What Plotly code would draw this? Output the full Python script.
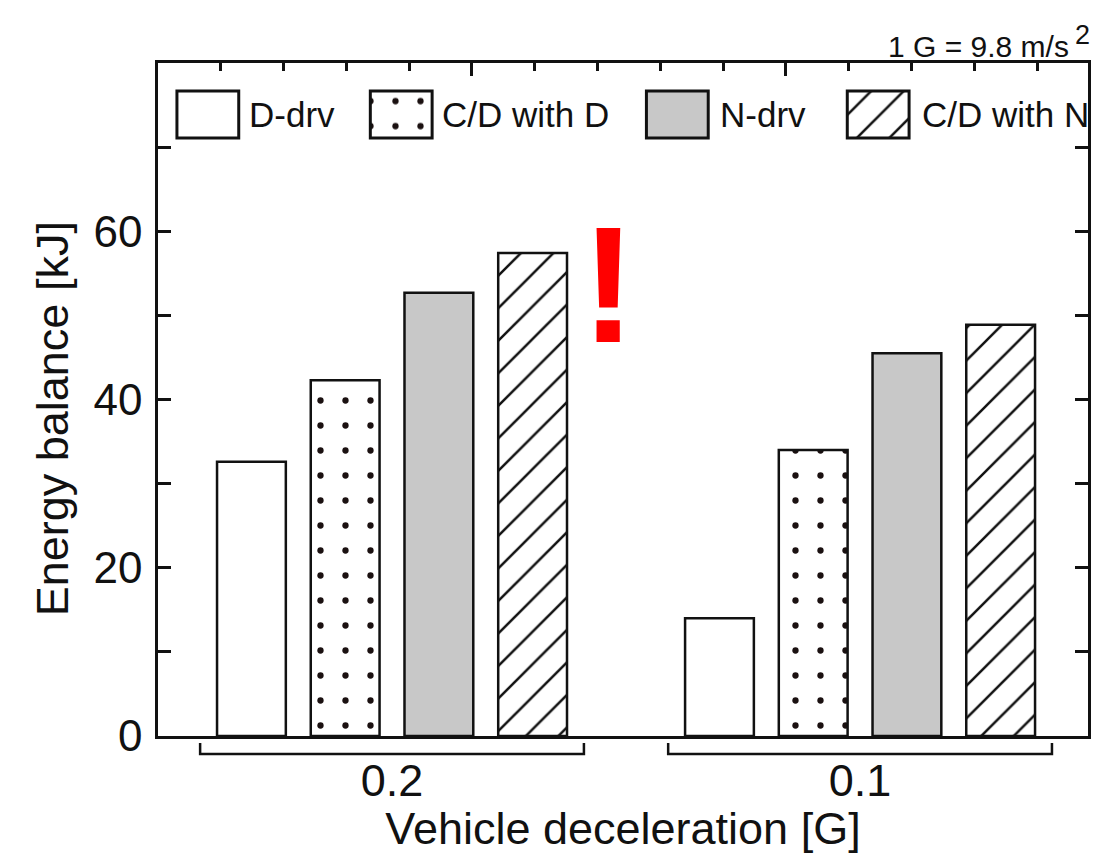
import plotly.graph_objects as go

# ---------------- data ----------------
categories = ["0.2", "0.1"]
series_names = ["D-drv", "C/D with D", "N-drv", "C/D with N"]
d_drv = [32.6, 14.0]
cd_with_d = [42.3, 34.0]
n_drv = [52.7, 45.5]
cd_with_n = [57.4, 48.9]
series_values = [d_drv, cd_with_d, n_drv, cd_with_n]

y_tickvals = [0, 10, 20, 30, 40, 50, 60, 70]
y_ticktext = ["0", "", "20", "", "40", "", "60", ""]

x_title = "Vehicle deceleration [G]"
y_title = "Energy balance [kJ]"
unit_note = "1 G = 9.8 m/s"
unit_exp = "2"

# ---------------- layout geometry (pixels) ----------------
W, H = 1100, 854
L, R, T, B = 158, 1091, 63, 736
PW, PH = R - L, B - T
FONT = "Arial, Liberation Sans, sans-serif"
INK = "#111111"


def px_x(px):
    return (px - L) / PW


def px_y(py):
    return (B - py) / PH


styles = [
    dict(color="white", pattern=None),
    dict(color="white", pattern=dict(shape=".", size=25, solidity=0.05,
                                     fgcolor="#1a1010", fgopacity=1,
                                     bgcolor="white", fillmode="overlay")),
    dict(color="#c8c8c8", pattern=None),
    dict(color="white", pattern=dict(shape="/", size=23, solidity=0.11,
                                     fgcolor="#111111", fgopacity=1,
                                     bgcolor="white", fillmode="overlay")),
]

fig = go.Figure()

for name, vals, st in zip(series_names, series_values, styles):
    marker = dict(color=st["color"], line=dict(color=INK, width=2.5))
    if st["pattern"]:
        marker["pattern"] = st["pattern"]
    fig.add_trace(go.Bar(x=categories, y=vals, name=name, marker=marker,
                         showlegend=False, xaxis="x", yaxis="y"))

# legend swatches (layout: pixel centres of the legend boxes)
legend_box_centres = [208, 402, 679, 880.5]
legend_text_left = [247, 441, 720, 922]
legend_box_w = 62
for i, (name, st) in enumerate(zip(series_names, styles)):
    marker = dict(color=st["color"], line=dict(color=INK, width=3))
    if st["pattern"]:
        marker["pattern"] = st["pattern"]
    fig.add_trace(go.Bar(x=[legend_box_centres[i]], y=[1], width=[legend_box_w],
                         marker=marker, showlegend=False, hoverinfo="skip",
                         xaxis="x3", yaxis="y3"))

# dummy trace so the top tick axis is drawn
fig.add_trace(go.Scatter(x=[None], y=[None], xaxis="x2", yaxis="y",
                         showlegend=False, hoverinfo="skip"))

box_top, box_bot = 91, 138
pad = (box_bot - box_top) * 0.05
y3_dom = [px_y(box_bot + pad), px_y(box_top - pad)]

fig.update_layout(
    width=W, height=H,
    margin=dict(l=L, r=W - R, t=T, b=H - B, pad=0),
    paper_bgcolor="white", plot_bgcolor="white",
    font=dict(family=FONT, color=INK),
    barmode="group", bargap=0.199, bargroupgap=0.266,
    xaxis=dict(type="category", range=[-0.5, 1.487], showline=True,
               linecolor=INK, linewidth=2.5, ticks="", showgrid=False,
               zeroline=False, tickfont=dict(size=45, color=INK),
               ticklabelstandoff=3,
               title=dict(text=x_title, font=dict(size=45, color=INK), standoff=0),
               mirror=False),
    xaxis2=dict(overlaying="x", side="top", range=[0, PW / 63.0],
                showline=True, linecolor=INK, linewidth=2.5,
                ticks="inside", dtick=5, tick0=0, ticklen=13, tickwidth=2.5,
                tickcolor=INK, showticklabels=False, showgrid=False,
                zeroline=False,
                minor=dict(dtick=1, ticks="inside", ticklen=8, tickwidth=2.5,
                           tickcolor=INK, showgrid=False)),
    yaxis=dict(range=[0, 80], tickvals=y_tickvals, ticktext=y_ticktext,
               ticks="inside", ticklen=13, tickwidth=2.5, tickcolor=INK,
               showline=True, linecolor=INK, linewidth=2.5, mirror="ticks",
               showgrid=False, zeroline=False,
               tickfont=dict(size=44, color=INK), ticklabelstandoff=4),
    xaxis3=dict(domain=[0, 1], range=[L, R], visible=False, anchor="y3"),
    yaxis3=dict(domain=y3_dom, range=[-0.05, 1.05], visible=False, anchor="x3"),
)

# y-axis title
fig.add_annotation(x=px_x(52), y=px_y(419), xref="paper", yref="paper",
                   text=y_title, textangle=-90, showarrow=False,
                   xanchor="center", yanchor="middle",
                   font=dict(size=45, color=INK))

# legend labels
for name, tx in zip(series_names, legend_text_left):
    fig.add_annotation(x=px_x(tx), y=px_y(114.5), xref="paper", yref="paper",
                       text=name, showarrow=False, xanchor="left",
                       yanchor="middle", font=dict(size=35, color=INK))

# group brackets under the axis
half = 0.41
yb_top, yb_bot = px_y(743), px_y(754)
for i, _ in enumerate(categories):
    fig.add_shape(type="path", xref="x", yref="paper",
                  path=(f"M {i - half},{yb_top} L {i - half},{yb_bot} "
                        f"L {i + half},{yb_bot} L {i + half},{yb_top}"),
                  line=dict(color=INK, width=2.5))

# unit note
fig.add_annotation(x=px_x(1074), y=px_y(46.5), xref="paper", yref="paper",
                   text=unit_note, showarrow=False, xanchor="right",
                   yanchor="middle", font=dict(size=30, color=INK))
fig.add_annotation(x=px_x(1076), y=px_y(35), xref="paper", yref="paper",
                   text=unit_exp, showarrow=False, xanchor="left",
                   yanchor="middle", font=dict(size=27, color=INK))

# red exclamation mark
fig.add_annotation(x=px_x(610), y=px_y(285), xref="paper", yref="paper",
                   text="<b>!</b>", showarrow=False, xanchor="center",
                   yanchor="middle", font=dict(size=165, color="#ff0000",
                                               family=FONT))

fig.write_html("out.html",
               config={"displayModeBar": False},
               post_script="document.body.style.margin='0';"
                           "document.body.style.padding='0';")
